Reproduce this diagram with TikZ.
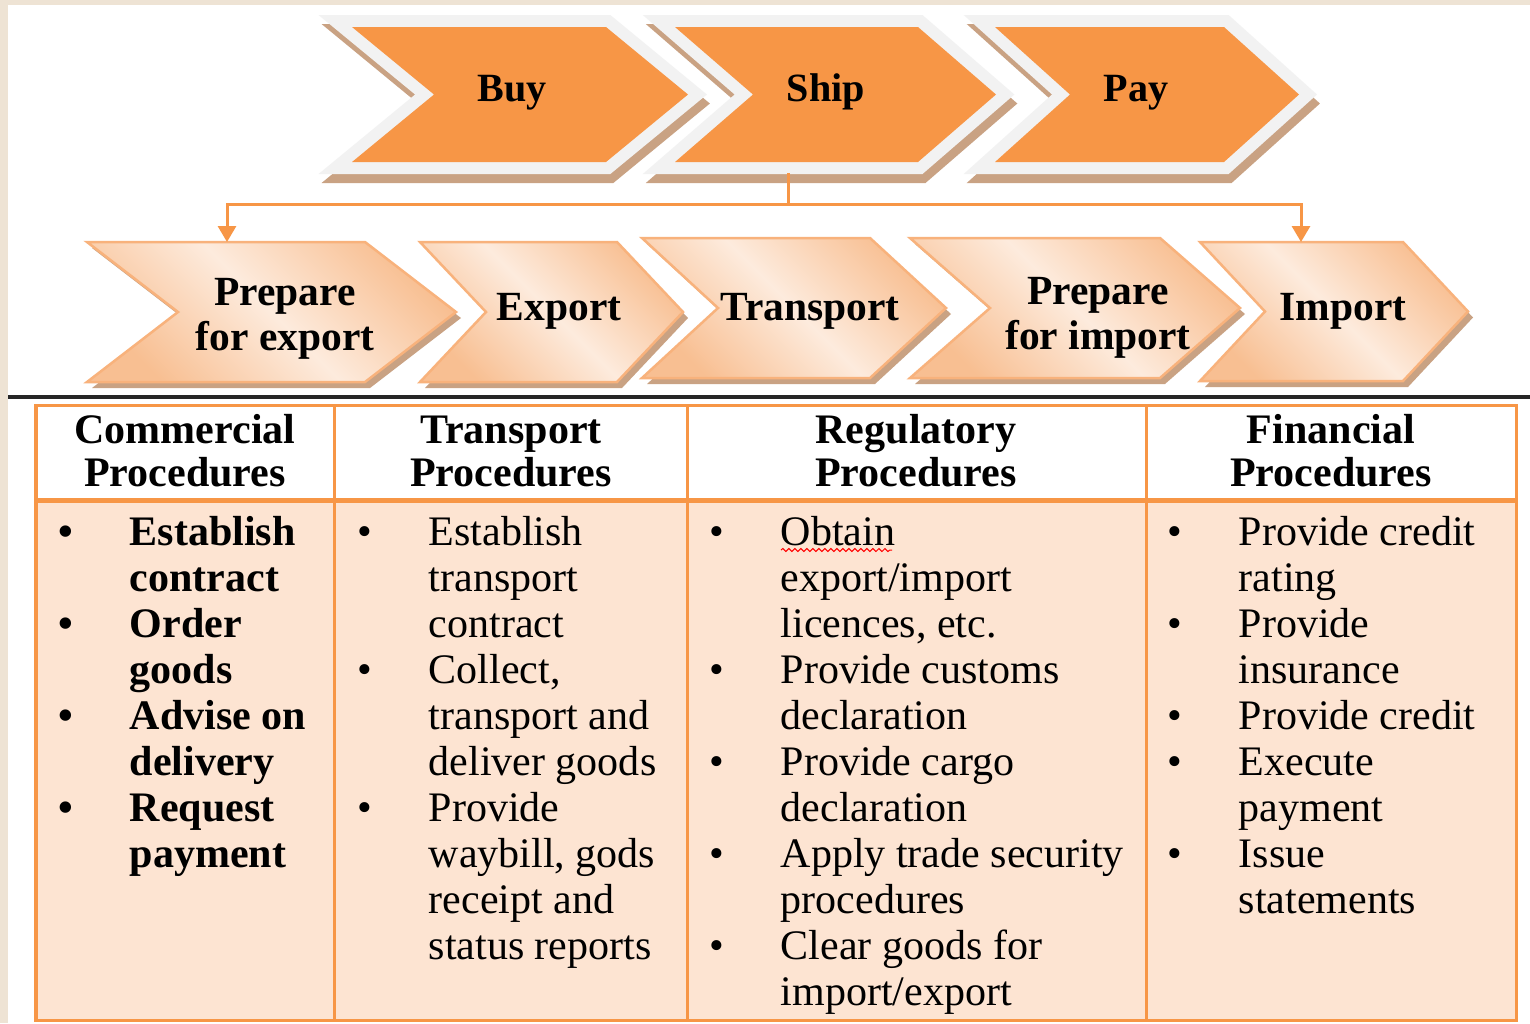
\documentclass[tikz,border=0pt]{standalone}
\usepackage{fontspec}
\setmainfont{Liberation Serif}
\usetikzlibrary{arrows.meta,decorations.pathmorphing}

\definecolor{orng}{HTML}{F79646}
\definecolor{graybd}{HTML}{F2F2F2}
\definecolor{shadbr}{HTML}{C9A283}
\definecolor{chevlight}{HTML}{FDEBDD}
\definecolor{chevdark}{HTML}{F8BF92}
\definecolor{chevedge}{HTML}{F8B27C}
\definecolor{cellfill}{HTML}{FDE4D2}
\definecolor{framebg}{HTML}{EEE3D4}

\newcommand{\cellfont}{\fontsize{11.95}{13.09}\selectfont}
\newcommand{\hdfont}{\fontsize{11.95}{12.23}\selectfont}
\newcommand{\stepfont}{\fontsize{11.4}{12.8}\selectfont}
\newcommand{\subfont}{\fontsize{11.8}{12.8}\selectfont}

% chevron: style, left x, right x, point depth, top y, bottom y
\newcommand{\chev}[6]{\path[#1] (#2,#5) -- (#3,#5) -- ({#3+#4},{(#5+#6)/2})
  -- (#3,#6) -- (#2,#6) -- ({#2+#4},{(#5+#6)/2}) -- cycle;}

\tikzset{
  topshad/.style={fill=shadbr, draw=shadbr, line width=0.24cm, shift={(3,9)}},
  topchev/.style={fill=orng, preaction={draw=graybd, line width=0.24cm}},
  lowshad/.style={fill=shadbr, shift={(5,6)}},
  lowchev/.style={draw=chevedge, line width=0.025cm, top color=chevdark,
    bottom color=chevdark, middle color=chevlight, shading angle=-45},
  steplbl/.style={anchor=base, inner sep=0, font=\stepfont\bfseries},
  sublbl/.style={anchor=base, inner sep=0, font=\subfont\bfseries},
  head/.style={anchor=base, inner sep=0, font=\hdfont\bfseries},
  list/.style={anchor=base west, inner sep=0, font=\cellfont},
  grid/.style={draw=orng, line width=0.03cm},
  flow/.style={draw=orng, line width=0.03cm}
}

\begin{document}
\begin{tikzpicture}[x=0.01cm, y=-0.01cm, >={Triangle[width=0.18cm,length=0.16cm]}]
  \useasboundingbox (0,0) rectangle (1530,1023);
  \fill[framebg] (0,0) rectangle (1530,1023);
  \fill[white] (8,5) rectangle (1530,1023);

  % main steps
  \chev{topshad}{352}{606}{82}{27}{162}
  \chev{topchev}{352}{606}{82}{27}{162}
  \chev{topshad}{675}{918}{78}{27}{162}
  \chev{topchev}{675}{918}{78}{27}{162}
  \chev{topshad}{995}{1224}{75}{27}{162}
  \chev{topchev}{995}{1224}{75}{27}{162}
  \node[steplbl] (buy) at (512,101) {Buy};
  \node[steplbl] (ship) at (826,101) {Ship};
  \node[steplbl] (pay) at (1136,101) {Pay};

  % sub steps
  \chev{lowshad}{87}{365}{91}{242}{382}
  \chev{lowchev}{87}{365}{91}{242}{382}
  \chev{lowshad}{420}{617}{66}{242}{382}
  \chev{lowchev}{420}{617}{66}{242}{382}
  \chev{lowshad}{642}{870}{76}{238}{378}
  \chev{lowchev}{642}{870}{76}{238}{378}
  \chev{lowshad}{910}{1160}{80}{238}{378}
  \chev{lowchev}{910}{1160}{80}{238}{378}
  \chev{lowshad}{1200}{1403}{65}{242}{381}
  \chev{lowchev}{1200}{1403}{65}{242}{381}
  \node[sublbl] (prepexp) at (285,305) {\begin{tabular}[t]{@{}c@{}}Prepare\\for export\end{tabular}};
  \node[sublbl] (export) at (559,320) {Export};
  \node[sublbl] (transp) at (810,320) {Transport};
  \node[sublbl] (prepimp) at (1098,304) {\begin{tabular}[t]{@{}c@{}}Prepare\\for import\end{tabular}};
  \node[sublbl] (import) at (1343,320) {Import};

  \coordinate (shipfoot) at (788,173);
  \coordinate (hub) at (788,204);
  \coordinate (expin) at (227,242);
  \coordinate (impin) at (1301,242);
  \draw[flow] (shipfoot) -- (hub);
  \draw[flow,->] (hub) -| (expin);
  \draw[flow,->] (hub) -| (impin);

  \draw[line width=0.035cm, black!85] (8,397) -- (1530,397);

  % table
  \fill[cellfill] (36,500) rectangle (1516,1020);
  \draw[grid] (36,405) rectangle (1516,1020);
  \foreach \cx in {334,687,1146}
    \draw[grid] (\cx,405) -- (\cx,1020);
  \draw[orng, line width=0.05cm] (36,500) -- (1516,500);

  \node[head] (hcomm) at (185,443) {\begin{tabular}[t]{@{}c@{}}Commercial\\Procedures\end{tabular}};
  \node[head] (htrans) at (511,443) {\begin{tabular}[t]{@{}c@{}}Transport\\Procedures\end{tabular}};
  \node[head] (hreg) at (916,443) {\begin{tabular}[t]{@{}c@{}}Regulatory\\Procedures\end{tabular}};
  \node[head] (hfin) at (1331,443) {\begin{tabular}[t]{@{}c@{}}Financial\\Procedures\end{tabular}};

  \node[list] (lcomm) at (58,545) {\bfseries\begin{tabular}[t]{@{}p{0.71cm}@{}l@{}}
    \textbullet & Establish\\ & contract\\
    \textbullet & Order\\ & goods\\
    \textbullet & Advise on\\ & delivery\\
    \textbullet & Request\\ & payment
  \end{tabular}};
  \node[list] (ltrans) at (357,545) {\begin{tabular}[t]{@{}p{0.71cm}@{}l@{}}
    \textbullet & Establish\\ & transport\\ & contract\\
    \textbullet & Collect,\\ & transport and\\ & deliver goods\\
    \textbullet & Provide\\ & waybill, gods\\ & receipt and\\ & status reports
  \end{tabular}};
  \node[list] (lreg) at (709,545) {\begin{tabular}[t]{@{}p{0.71cm}@{}l@{}}
    \textbullet & Obtain\\ & export/import\\ & licences, etc.\\
    \textbullet & Provide customs\\ & declaration\\
    \textbullet & Provide cargo\\ & declaration\\
    \textbullet & Apply trade security\\ & procedures\\
    \textbullet & Clear goods for\\ & import/export
  \end{tabular}};
  \node[list] (lfin) at (1167,545) {\begin{tabular}[t]{@{}p{0.71cm}@{}l@{}}
    \textbullet & Provide credit\\ & rating\\
    \textbullet & Provide\\ & insurance\\
    \textbullet & Provide credit\\
    \textbullet & Execute\\ & payment\\
    \textbullet & Issue\\ & statements
  \end{tabular}};
  \draw[red, line width=0.01cm, decorate,
    decoration={snake, amplitude=0.015cm, segment length=0.06cm}] (781,550) -- (892,550);
\end{tikzpicture}
\end{document}
